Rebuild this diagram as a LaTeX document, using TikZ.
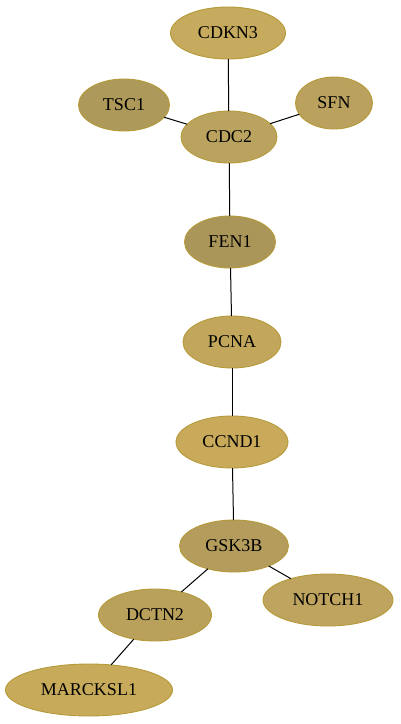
\documentclass[tikz,border=0pt]{standalone}
\usepackage{fontspec}
\setmainfont{Liberation Serif}
\usetikzlibrary{shapes.geometric}

\begin{document}
\begin{tikzpicture}[
    x=1pt, y=-1pt,
    font=\fontsize{18}{18}\selectfont,
    text centered,
    every gene/.style={
      ellipse,
      draw=gborder,
      line width=.9pt,
      minimum height=52pt,
      inner sep=0,
      outer sep=0
    },
    gene/.style={every gene, fill=#1},
    link/.style={draw=black, line width=1pt}
  ]
  \definecolor{gborder}{HTML}{B59A3A}
  \definecolor{cA}{HTML}{C6AA5E}
  \definecolor{cB}{HTML}{AD995A}
  \definecolor{cC}{HTML}{BBA15E}
  \definecolor{cD}{HTML}{BAA35E}
  \definecolor{cE}{HTML}{AB9659}
  \definecolor{cF}{HTML}{C1A65C}
  \definecolor{cG}{HTML}{C8AA5A}
  \definecolor{cH}{HTML}{B39C5C}
  \definecolor{cI}{HTML}{BEA45E}
  \definecolor{cJ}{HTML}{B9A15C}
  \definecolor{cK}{HTML}{C8AB5A}

  \useasboundingbox (0,0) rectangle (400,724);

  \node [gene=cA, minimum width=115pt] (CDKN3) at (228,33) {CDKN3};
  \node [gene=cB, minimum width=91pt] (TSC1) at (124,105) {TSC1};
  \node [gene=cC, minimum width=77pt] (SFN) at (334,103) {SFN};
  \node [gene=cD, minimum width=96pt] (CDC2) at (229,137) {CDC2};
  \node [gene=cE, minimum width=91pt] (FEN1) at (230,242) {FEN1};
  \node [gene=cF, minimum width=98pt] (PCNA) at (232,342) {PCNA};
  \node [gene=cG, minimum width=112pt] (CCND1) at (232,442) {CCND1};
  \node [gene=cH, minimum width=109pt] (GSK3B) at (234,546) {GSK3B};
  \node [gene=cI, minimum width=130pt] (NOTCH1) at (328,600) {NOTCH1};
  \node [gene=cJ, minimum width=113pt] (DCTN2) at (155,615) {DCTN2};
  \node [gene=cK, minimum width=167pt] (MARCKSL1) at (89,690) {MARCKSL1};

  \draw [link] (CDKN3) -- (CDC2);
  \draw [link] (TSC1) -- (CDC2);
  \draw [link] (SFN) -- (CDC2);
  \draw [link] (CDC2) -- (FEN1);
  \draw [link] (FEN1) -- (PCNA);
  \draw [link] (PCNA) -- (CCND1);
  \draw [link] (CCND1) -- (GSK3B);
  \draw [link] (GSK3B) -- (NOTCH1);
  \draw [link] (GSK3B) -- (DCTN2);
  \draw [link] (DCTN2) -- (MARCKSL1);

\end{tikzpicture}
\end{document}
